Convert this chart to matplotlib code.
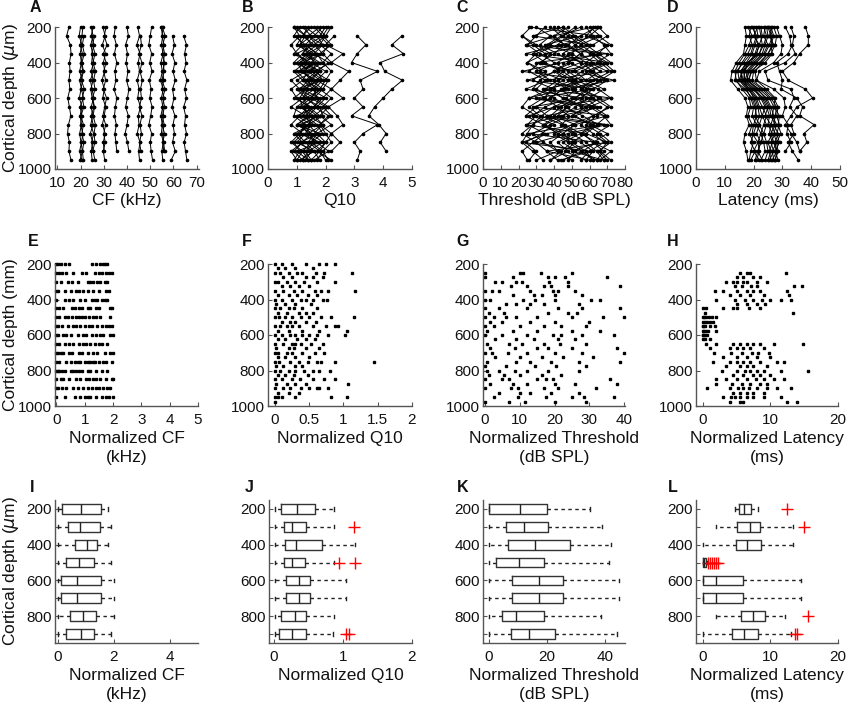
import numpy as np
import matplotlib
matplotlib.use("Agg")
import matplotlib.pyplot as plt

plt.rcParams['font.family'] = ['Liberation Sans', 'DejaVu Sans']
nan = np.nan

# ---------------- data ----------------
depth_grid = [200, 250, 300, 350, 400, 450, 500, 550, 600, 650, 700, 750, 800, 850, 900, 950]

# A: CF tracks (kHz), one list per penetration, values at depth_grid
cf_tracks = [
    [15.0, 14.0, 15.6, 15.9, 15.2, 15.5, 15.0, 15.4, 14.5, 15.2, 15.8, 14.8, 14.4, 15.2, 15.0, 15.9],
    [20.0, 19.4, 20.6, 19.8, 20.4, 19.6, 20.8, 20.2, 19.5, 20.6, 19.8, 20.4, 19.6, 20.2, 20.8, 19.8],
    [21.0, 20.6, 19.8, 20.8, 20.2, 21.0, 19.6, 20.4, 21.2, 19.8, 20.6, 20.0, 21.0, 20.4, 19.6, 20.6],
    [nan, 21.4, 20.8, 21.6, 20.6, 21.2, 20.4, 21.6, 20.8, 21.4, 20.2, 21.2, 20.6, 21.4, 20.8, 21.2],
    [24.6, 25.4, 24.4, 25.2, 24.8, 25.6, 24.2, 25.0, 25.6, 24.6, 25.2, 24.4, 25.6, 24.8, 25.4, 26.2],
    [25.4, 24.6, 25.8, 24.8, 25.6, 24.6, 25.4, 24.4, 25.0, 25.8, 24.6, 25.4, 24.2, 25.2, 24.6, 25.0],
    [nan, 26.0, 25.2, 26.2, 25.4, 26.4, 25.6, 26.2, 25.2, 26.0, 25.4, 26.4, 25.8, 26.2, 25.2, nan],
    [29.6, 30.6, 29.4, 30.8, 29.8, 30.4, 29.2, 30.2, 29.6, 30.8, 30.2, 29.4, 30.6, 29.8, 30.2, nan],
    [31.0, 30.2, 31.4, 29.8, 31.0, 30.0, 30.8, 29.8, 31.2, 30.4, 29.6, 30.8, 30.0, 30.6, 29.8, 30.4],
    [35.0, 34.4, 35.4, 34.6, 35.6, 34.8, 35.2, 34.4, 35.6, 35.0, 34.6, 35.4, 34.8, 35.2, 35.6, nan],
    [40.0, 40.6, 39.4, 40.2, 39.6, 40.4, 39.8, 40.8, 40.2, 39.4, 40.6, 40.0, 39.2, 40.2, 40.8, nan],
    [44.6, 45.4, 44.2, 45.6, 44.8, 45.4, 44.4, 45.2, 44.6, 45.8, 44.8, 45.2, 44.4, 45.6, 45.0, 45.4],
    [nan, 45.8, 46.2, 45.2, 46.4, 45.6, 46.6, 45.8, 46.2, 45.4, 46.4, 45.6, 46.2, 45.4, 46.0, nan],
    [50.6, 50.0, 49.4, 50.6, 49.8, 50.8, 49.6, 50.4, 49.8, 50.8, 50.2, 49.4, 50.6, 50.0, 50.4, 51.0],
    [54.6, 55.4, 54.8, 55.6, 54.6, 55.2, 54.4, 55.6, 54.8, 55.4, 54.6, 55.2, 54.8, 55.6, 55.0, 55.4],
    [55.6, 55.0, 56.0, 55.2, 56.2, 55.4, 55.8, 55.0, 56.0, 55.2, 55.8, 55.0, 56.2, 55.4, 55.8, nan],
    [55.2, 56.4, 55.4, 56.2, 55.6, 56.0, 55.0, 56.4, 55.4, 56.2, 55.2, 56.0, 55.4, 55.8, 56.2, nan],
    [nan, 59.6, 60.4, 59.4, 60.6, 59.8, 60.8, 59.6, 60.2, 59.4, 60.6, 59.8, 60.4, 59.6, 60.8, 59.0],
    [nan, 64.4, 65.6, 64.8, 65.4, 64.6, 65.8, 64.8, 65.6, 64.4, 65.2, 64.8, 65.6, 64.6, 65.2, 65.8],
]

# B: Q10 tracks
q10_tracks = [
    [0.9, 1.1, 0.8, 1.0, 1.3, 0.9, 1.2, 0.8, 1.0, 1.4, 1.1, 0.8, 1.2, 0.9, 1.1, 0.9],
    [1.2, 1.5, 1.1, 1.6, 1.3, 1.8, 1.4, 1.1, 1.6, 1.3, 1.7, 1.2, 1.5, 1.9, 1.4, 1.2],
    [1.8, 1.4, 1.9, 1.6, 2.1, 1.7, 1.3, 1.8, 1.5, 2.0, 1.6, 1.9, 1.4, 1.7, 2.1, 1.6],
    [2.1, 1.9, 2.2, 1.8, 1.5, 2.0, 1.7, 2.2, 1.9, 1.6, 2.1, 1.8, 2.2, 2.0, 1.7, 2.2],
    [1.5, 1.2, 1.6, 1.0, 1.4, 1.1, 1.7, 1.3, 0.9, 1.5, 1.2, 1.6, 1.0, 1.3, 1.6, 1.1],
    [1.0, 1.3, 1.5, 1.2, 0.9, 1.6, 1.0, 1.4, 1.2, 0.8, 1.3, 1.5, 0.9, 1.2, 0.8, 1.0],
    [1.9, 1.6, 1.3, 1.7, 1.9, 1.4, 1.8, 1.5, 2.0, 1.7, 1.4, 1.9, 1.6, 1.4, 1.8, 1.5],
    [1.3, 1.7, 1.9, 1.4, 1.6, 1.2, 1.5, 1.9, 1.3, 1.8, 1.9, 1.4, 1.7, 1.5, 1.2, 1.4],
    [nan, 1.0, 1.2, 0.9, 1.5, 1.3, 0.8, 1.1, 1.4, 1.0, 0.9, 1.3, 1.1, 0.8, 1.2, 1.0],
    [2.2, 2.0, 1.8, 2.2, 1.9, 2.2, 2.0, 1.8, 2.2, 1.9, 2.2, 1.8, 2.0, 2.2, 1.9, 2.1],
    [1.6, 1.9, 1.4, 1.2, 1.7, 1.5, 1.9, 1.6, 1.2, 1.4, 1.8, 1.1, 1.4, 1.6, 1.3, 1.5],
    [1.1, 0.9, 1.3, 1.7, 1.1, 1.4, 1.2, 1.6, 1.7, 1.2, 1.5, 1.0, 1.8, 1.1, 1.5, 1.3],
    [1.7, 2.0, 1.6, 1.9, 1.2, 1.8, 1.5, 1.2, 1.8, 1.6, 1.3, 1.7, 1.9, 1.5, 1.9, 1.7],
    [nan, 1.4, 1.7, 1.3, 1.8, 1.0, 1.3, 1.7, 1.5, 1.1, 1.6, 1.4, 1.1, 1.8, 1.0, 1.4],
    [1.4, 1.2, 1.0, 1.5, 1.1, 1.7, 1.9, 1.0, 1.3, 1.7, 1.0, 1.5, 1.3, 1.0, 1.6, 1.8],
    [2.0, 1.8, 2.1, 1.9, 2.2, 1.6, 2.1, 1.9, 1.6, 2.1, 1.8, 2.2, 1.7, 2.0, 1.8, 2.0],
    [0.9, 1.3, 1.1, 1.4, 1.0, 1.2, 1.6, 1.3, 1.1, 1.2, 1.4, 1.0, 1.5, 1.2, 0.9, 1.2],
    [nan, 2.3, 2.0, 2.6, 2.2, 2.8, 2.5, 2.2, 2.6, 2.1, 2.4, 2.6, 2.2, 2.5, 2.2, nan],
    [nan, 3.1, 3.4, 3.1, 2.9, 3.8, 3.2, 3.3, 3.0, 3.3, 2.9, 3.8, 3.3, 3.0, 3.2, 3.1],
    [nan, 4.65, 4.3, 4.7, 3.9, 4.05, 4.67, 4.3, 4.0, 3.7, 3.5, 3.85, 4.1, 3.9, 4.1, nan],
]

# C: threshold tracks (dB SPL)
thr_tracks = [
    [27, 22, 30, 38, 33, 45, 40, 52, 47, 35, 28, 40, 33, 24, 30, 26],
    [45, 52, 60, 48, 55, 42, 50, 38, 45, 58, 50, 62, 55, 45, 52, 48],
    [63, 58, 70, 65, 72, 60, 68, 55, 62, 70, 64, 58, 66, 72, 65, 70],
    [55, 45, 38, 50, 42, 30, 38, 48, 60, 52, 45, 35, 42, 55, 62, 58],
    [65, 70, 62, 55, 48, 60, 52, 65, 72, 60, 68, 72, 64, 70, 66, 72],
    [40, 48, 42, 30, 25, 35, 28, 40, 34, 26, 32, 45, 52, 42, 48, 38],
    [nan, 22, 28, 35, 25, 32, 45, 38, 26, 22, 30, 25, 35, 28, 22, 25],
    [60, 66, 55, 62, 70, 58, 64, 50, 58, 64, 52, 60, 70, 62, 68, 64],
    [48, 40, 46, 55, 62, 52, 58, 68, 60, 48, 40, 52, 45, 38, 42, 50],
    [nan, 65, 72, 62, 68, 74, 66, 58, 52, 62, 70, 64, 56, 62, 72, 66],
    [35, 30, 25, 32, 40, 48, 55, 45, 38, 30, 36, 28, 22, 30, 36, 42],
    [66, 60, 52, 45, 55, 62, 70, 62, 55, 46, 56, 65, 58, 50, 58, 62],
    [42, 50, 58, 65, 58, 50, 42, 35, 45, 55, 62, 50, 40, 48, 56, 45],
    [nan, 38, 32, 42, 50, 40, 32, 28, 35, 42, 48, 38, 28, 34, 42, 30],
    [52, 45, 52, 60, 66, 72, 62, 55, 65, 72, 62, 55, 62, 68, 60, 55],
    [30, 38, 46, 40, 32, 26, 35, 30, 40, 48, 42, 34, 45, 52, 46, 58],
    [58, 62, 68, 72, 64, 56, 48, 56, 66, 58, 50, 44, 50, 58, 64, 68],
    [64, 55, 48, 55, 48, 40, 48, 60, 52, 44, 38, 46, 55, 64, 56, 62],
    [38, 44, 36, 28, 35, 45, 52, 44, 50, 40, 33, 28, 25, 22, 28, 34],
    [nan, 48, 55, 50, 58, 66, 58, 45, 38, 30, 24, 34, 42, 50, 44, 38],
    [45, 28, 60, 35, 70, 42, 25, 62, 30, 66, 44, 24, 58, 70, 36, 60],
    [62, 40, 24, 66, 45, 22, 60, 34, 72, 40, 26, 68, 36, 22, 60, 44],
    [26, 64, 44, 24, 60, 70, 36, 24, 56, 28, 70, 52, 26, 64, 50, 68],
    [nan, 55, 35, 70, 30, 52, 74, 46, 26, 60, 36, 70, 48, 30, 55, 64],
]

# D: latency tracks (ms)
lat_tracks = [
    [17.0, 17.5, 17.0, 16.5, 14.0, 12.5, 12.0, 14.5, 17.0, 18.0, 17.5, 18.5, 17.0, 16.5, 17.5, 18.0],
    [19.0, 18.5, 19.5, 18.0, 16.0, 14.5, 15.0, 17.5, 19.0, 20.0, 19.5, 21.0, 20.0, 19.0, 20.5, 19.0],
    [21.0, 21.5, 20.5, 19.5, 17.5, 15.5, 16.0, 18.5, 21.0, 22.0, 23.0, 22.0, 23.5, 22.5, 21.5, 23.0],
    [22.5, 23.0, 22.0, 21.0, 19.0, 16.5, 17.0, 20.0, 22.5, 24.0, 23.0, 24.5, 23.5, 24.5, 25.0, 24.0],
    [23.5, 24.5, 23.5, 22.0, 18.0, 17.0, 16.5, 19.5, 23.5, 25.0, 24.0, 26.0, 25.5, 26.5, 25.5, 26.0],
    [24.5, 25.0, 24.0, 23.0, 20.0, 17.5, 18.0, 21.0, 24.5, 26.0, 27.0, 26.0, 27.5, 26.0, 27.0, 25.5],
    [25.5, 26.5, 25.5, 24.0, 21.0, 18.5, 17.5, 22.0, 25.5, 27.0, 26.5, 28.0, 27.0, 28.0, 26.5, 27.0],
    [26.5, 25.5, 27.0, 25.0, 22.5, 19.0, 18.5, 23.0, 26.0, 28.0, 27.5, 27.0, 28.5, 27.5, 28.0, 26.5],
    [18.0, 19.5, 18.5, 17.0, 15.0, 13.5, 14.0, 16.0, 18.5, 19.0, 18.0, 19.5, 18.5, 20.0, 19.0, 18.5],
    [20.0, 20.5, 21.5, 20.5, 18.5, 16.0, 15.5, 18.0, 20.5, 21.5, 22.0, 21.0, 22.5, 21.5, 22.0, 21.0],
    [22.0, 22.5, 23.0, 22.0, 19.5, 16.0, 15.0, 19.0, 21.5, 23.0, 24.5, 23.5, 22.5, 23.5, 24.0, 22.5],
    [24.0, 23.5, 25.0, 23.5, 20.5, 18.0, 17.0, 20.5, 23.0, 24.5, 25.5, 25.0, 26.5, 25.0, 26.0, 25.0],
    [25.0, 26.0, 26.5, 25.0, 22.0, 19.5, 18.0, 21.5, 24.0, 25.5, 26.0, 27.5, 26.0, 27.0, 28.0, 27.5],
    [26.0, 27.0, 26.0, 26.5, 24.0, 20.0, 19.5, 23.5, 27.0, 28.5, 28.0, 29.0, 28.0, 29.0, 27.5, 28.5],
    [27.0, 28.0, 27.5, 26.0, 23.0, 20.5, 21.0, 24.5, 27.5, 27.0, 29.0, 28.5, 29.5, 28.0, 28.5, 27.5],
    [21.5, 20.0, 22.0, 21.0, 18.0, 15.5, 16.5, 18.5, 20.0, 21.0, 20.5, 22.0, 21.0, 22.5, 21.5, 20.5],
    [19.5, 21.0, 20.0, 19.0, 16.5, 14.0, 13.5, 17.0, 19.5, 20.5, 21.0, 20.0, 19.5, 21.5, 20.0, 22.0],
    [28.0, 29.0, 30.0, 29.5, 27.0, 22.0, 21.0, 27.0, 30.5, 31.0, 30.0, 32.0, 31.5, 33.0, 31.0, nan],
    [31.0, 32.5, 33.0, 34.5, 31.0, 24.0, 25.0, 33.0, 34.0, 32.5, 35.0, 33.0, 34.0, 32.0, 33.5, 35.5],
    [33.0, 34.0, 33.5, 32.0, 28.0, 29.0, 30.0, 29.5, 35.0, 37.0, 36.0, 41.0, 37.5, 38.5, 36.0, nan],
    [38.0, 39.0, 39.0, 36.0, 34.0, 30.0, 32.0, 38.0, 40.5, 35.0, 33.0, 31.0, 33.0, 35.0, 36.0, nan],
]

# E: normalized CF, one row of values per depth in depth_grid
ncf_rows = [
    [0.0, 0.05, 0.15, 0.3, 0.45, 1.25, 1.4, 1.55, 1.65, 1.7, 1.8],
    [0.0, 0.1, 0.2, 0.35, 0.6, 0.9, 1.05, 1.35, 1.5, 1.6, 1.75, 1.85, 1.95],
    [0.0, 0.15, 0.4, 0.55, 0.75, 1.1, 1.2, 1.3, 1.45, 1.55, 1.7, 1.8],
    [0.0, 0.05, 0.3, 0.5, 0.7, 0.8, 0.95, 1.1, 1.3, 1.5, 1.75, 1.85],
    [0.0, 0.3, 0.45, 0.6, 0.85, 1.0, 1.25, 1.35, 1.45, 1.6, 1.7, 1.8],
    [0.0, 0.1, 0.25, 0.55, 0.65, 0.8, 0.9, 1.1, 1.2, 1.4, 1.5, 1.9, 1.95],
    [0.0, 0.1, 0.3, 0.4, 0.55, 0.7, 0.8, 0.9, 1.0, 1.15, 1.3, 1.4, 1.55, 1.9],
    [0.0, 0.05, 0.2, 0.4, 0.6, 0.7, 0.85, 1.0, 1.15, 1.25, 1.45, 1.6, 1.75, 1.85, 1.95],
    [0.0, 0.05, 0.25, 0.35, 0.5, 0.75, 0.95, 1.05, 1.25, 1.4, 1.55, 1.65, 1.9, 2.0],
    [0.0, 0.1, 0.3, 0.45, 0.6, 0.8, 0.95, 1.05, 1.2, 1.35, 1.5, 1.6, 1.8],
    [0.0, 0.05, 0.15, 0.25, 0.45, 0.55, 0.8, 0.9, 1.1, 1.3, 1.45, 1.7, 1.9, 2.0],
    [0.0, 0.1, 0.35, 0.5, 0.65, 0.75, 0.85, 1.0, 1.1, 1.2, 1.3, 1.35, 1.5, 1.65, 1.75, 1.95],
    [0.0, 0.05, 0.1, 0.2, 0.3, 0.5, 0.6, 0.7, 0.8, 0.9, 1.1, 1.2, 1.4, 1.6, 1.8],
    [0.0, 0.15, 0.25, 0.45, 0.7, 0.85, 1.05, 1.15, 1.3, 1.4, 1.55, 1.75, 1.95, 2.0],
    [0.0, 0.05, 0.2, 0.35, 0.6, 0.75, 0.95, 1.1, 1.25, 1.4, 1.5, 1.65, 1.8, 1.9],
    [0.0, 0.3, 0.65, 0.85, 1.0, 1.1, 1.2, 1.4, 1.6, 1.75, 1.85, 2.0],
]

# F-H: rows on a 25 um depth grid
fine_depth = [200, 225, 250, 275, 300, 325, 350, 375, 400, 425, 450, 475, 500, 525, 550, 575,
              600, 625, 650, 675, 700, 725, 750, 775, 800, 825, 850, 875, 900, 925, 950, 975]

nq10_rows = [
    [0.0, 0.1, 0.25, 0.45, 0.65, 0.75, 0.88],
    [0.05, 0.15, 0.3, 0.55],
    [0.0, 0.08, 0.2, 0.33, 0.4, 0.6, 0.72, 1.13],
    [0.12, 0.25, 0.45, 0.55, 0.7],
    [0.0, 0.05, 0.18, 0.3, 0.42, 0.62, 0.88],
    [0.1, 0.22, 0.35, 0.5],
    [0.0, 0.12, 0.28, 0.4, 0.58, 0.68, 0.78, 1.17],
    [0.05, 0.2, 0.32, 0.48, 0.62],
    [0.0, 0.1, 0.25, 0.38, 0.45, 0.55, 0.7, 0.76],
    [0.02, 0.15, 0.3, 0.52],
    [0.0, 0.08, 0.2, 0.28, 0.4, 0.62],
    [0.05, 0.18, 0.35, 0.45, 0.55],
    [0.0, 0.06, 0.15, 0.25, 0.38, 0.5, 0.68, 0.82, 1.15],
    [0.1, 0.22, 0.3, 0.45, 0.6],
    [0.0, 0.08, 0.18, 0.25, 0.35, 0.55, 0.75, 0.88, 0.92],
    [0.05, 0.2, 0.4, 0.65, 1.05],
    [0.0, 0.1, 0.22, 0.3, 0.4, 0.5, 0.62, 0.78, 1.02],
    [0.05, 0.15, 0.32, 0.45, 0.58],
    [0.0, 0.12, 0.25, 0.3, 0.38, 0.52, 0.7],
    [0.02, 0.2, 0.28, 0.45, 0.65],
    [0.0, 0.04, 0.18, 0.25, 0.4, 0.58, 0.72],
    [0.05, 0.15, 0.3, 0.5],
    [0.0, 0.06, 0.22, 0.35, 0.48, 0.62, 0.68, 0.88, 1.45],
    [0.02, 0.12, 0.3, 0.4],
    [0.0, 0.08, 0.2, 0.3, 0.42, 0.55, 0.65, 0.8],
    [0.05, 0.15, 0.28, 0.48],
    [0.0, 0.1, 0.25, 0.36, 0.55, 0.72, 0.88],
    [0.02, 0.18, 0.3, 0.45, 1.07],
    [0.0, 0.12, 0.22, 0.38, 0.5, 0.62, 0.65, 0.78],
    [0.05, 0.2, 0.35],
    [0.0, 0.04, 0.1, 0.3, 0.82, 1.05],
    [0.0],
]

nthr_rows = [
    [],
    [],
    [0.0, 10.0, 11.0, 16.0, 25.0],
    [0.0, 8.0, 18.0, 20.0, 23.0, 35.0],
    [3.0, 5.0, 9.0, 10.5, 18.5, 24.0],
    [7.5, 12.0, 17.0, 19.0, 24.0, 39.0],
    [0.0, 2.0, 4.0, 13.0, 19.5, 21.0, 26.0],
    [8.0, 14.0, 16.5, 20.0, 28.0],
    [0.0, 1.5, 11.0, 14.5, 20.0, 30.5, 33.0],
    [6.0, 9.0, 13.0, 17.0, 27.0],
    [0.0, 4.0, 12.0, 21.0, 28.0, 39.0],
    [1.0, 5.5, 18.0, 24.0, 26.5],
    [0.0, 2.5, 6.0, 9.0, 15.0, 25.0, 34.0, 40.0],
    [1.5, 5.0, 13.0, 20.0, 30.0],
    [0.0, 2.5, 10.0, 17.0, 22.0, 29.0],
    [0.5, 8.0, 15.0, 25.0, 33.0],
    [0.0, 5.0, 12.0, 19.5, 22.0, 28.0, 37.0],
    [3.0, 9.0, 14.0, 21.0, 26.0],
    [0.5, 7.0, 10.5, 17.0, 21.5, 29.0],
    [1.5, 8.5, 15.0, 18.0, 25.0, 38.0],
    [0.0, 2.0, 6.5, 12.0, 20.0, 28.0, 40.0],
    [3.0, 10.0, 16.5, 22.5, 31.0],
    [0.5, 9.0, 13.0, 19.0, 27.0, 39.0],
    [0.0, 6.0, 14.5, 20.5, 29.0],
    [0.5, 4.0, 8.5, 12.0, 18.0, 27.0],
    [1.0, 5.5, 10.0, 16.5, 22.0],
    [0.0, 5.0, 7.0, 15.0, 17.5, 19.5, 36.0],
    [1.5, 8.0, 12.0, 20.0, 26.0, 38.0],
    [0.0, 7.5, 9.5, 17.0, 21.0, 32.0],
    [4.0, 10.0, 13.0, 19.0, 27.0],
    [2.5, 9.5, 17.5, 25.0, 28.5, 37.0],
    [0.0, 7.0, 11.5, 20.0, 29.0],
]

nlat_rows = [
    [],
    [],
    [5.5, 6.5, 7.0, 12.3],
    [5.0, 6.0, 7.5, 8.5],
    [3.5, 4.5, 5.0, 6.0, 6.5, 8.0, 9.5],
    [4.8, 5.8, 7.2, 8.0, 13.5, 14.7],
    [1.8, 3.0, 5.0, 6.5, 7.5, 8.5, 12.5],
    [4.0, 5.5, 7.0, 9.0, 12.8],
    [2.0, 4.8, 6.2, 7.5, 8.8, 10.0, 11.5, 13.0],
    [5.0, 6.5, 8.0, 9.2],
    [0.0, 0.5, 3.0, 4.5, 5.0, 6.8, 8.5],
    [0.3, 13.3],
    [0.0, 0.2, 0.5, 0.9, 1.3, 2.0],
    [0.0, 0.3, 0.6, 1.0, 1.5],
    [0.0, 0.1, 0.4, 1.1, 1.8],
    [0.0, 0.2, 0.5, 0.8, 2.0],
    [0.0, 0.1, 0.3, 0.6],
    [0.0, 0.4, 1.0],
    [0.5, 2.0, 4.5, 5.5, 6.5, 7.5, 8.5, 10.5, 14.8],
    [1.0, 4.0, 5.0, 6.0, 7.0, 9.0],
    [1.7, 4.2, 5.8, 7.3, 8.2, 9.8],
    [3.0, 5.0, 6.5, 8.0, 10.0],
    [1.5, 4.0, 5.0, 6.0, 7.0, 8.5, 11.0, 12.0],
    [3.5, 5.5, 6.5, 7.5, 9.5],
    [2.8, 5.0, 6.2, 7.0, 8.0, 9.0, 11.5, 15.5],
    [4.5, 6.0, 7.5, 8.5, 10.0],
    [2.0, 3.5, 5.0, 6.5, 7.8, 9.0, 10.5, 12.0],
    [2.0, 4.3, 5.8, 7.0, 8.5, 9.5],
    [0.7, 4.0, 5.2, 6.0, 6.8, 8.0, 9.5, 11.0, 13.0],
    [4.5, 5.5, 6.5, 7.5, 9.0],
    [3.0, 4.2, 4.8, 5.5, 6.5, 7.5, 9.0, 11.5],
    [4.0, 5.5, 6.0, 12.5, 14.0],
]

# I-L: box statistics per 100 um depth bin
box_depth = [200, 300, 400, 500, 600, 700, 800, 900]
box_ticklabels = ['200', '', '400', '', '600', '', '800', '']

cf_lo = [0.0, 0.0, 0.0, 0.0, 0.0, 0.0, 0.0, 0.0]
cf_q1 = [0.14, 0.38, 0.6, 0.3, 0.1, 0.1, 0.44, 0.3]
cf_med = [0.83, 0.80, 1.04, 0.74, 0.68, 0.68, 0.89, 0.83]
cf_q3 = [1.55, 1.49, 1.39, 1.29, 1.55, 1.55, 1.37, 1.29]
cf_hi = [1.79, 1.88, 1.79, 1.88, 2.0, 2.0, 2.0, 1.88]
cf_out = [[], [], [], [], [], [], [], []]

q10_lo = [0.02, 0.02, 0.02, 0.02, 0.02, 0.02, 0.02, 0.02]
q10_q1 = [0.1, 0.14, 0.155, 0.14, 0.18, 0.18, 0.1, 0.07]
q10_med = [0.34, 0.26, 0.315, 0.26, 0.36, 0.36, 0.30, 0.26]
q10_q3 = [0.59, 0.46, 0.70, 0.45, 0.53, 0.53, 0.46, 0.46]
q10_hi = [0.87, 0.87, 1.17, 0.87, 1.05, 1.05, 0.87, 0.86]
q10_out = [[], [1.16], [], [0.95, 1.18], [], [], [], [1.05, 1.09]]

thr_lo = [0.0, 0.0, 0.0, 0.0, 0.0, 0.0, 0.0, 0.0]
thr_q1 = [0.0, 5.9, 6.5, 2.4, 8.1, 8.1, 4.6, 7.6]
thr_med = [10.9, 12.2, 15.9, 10.4, 17.4, 17.4, 9.3, 13.9]
thr_q3 = [20.1, 20.5, 28.0, 19.1, 25.7, 25.7, 19.0, 22.8]
thr_hi = [35.0, 39.0, 42.0, 41.6, 44.9, 44.9, 38.7, 44.3]
thr_out = [[], [], [], [], [], [], [], []]

lat_lo = [4.8, 2.0, 0.0, 0.0, 0.0, 0.0, 2.0, 0.0]
lat_q1 = [5.35, 5.1, 4.9, 0.0, 0.0, 0.0, 5.6, 4.3]
lat_med = [6.1, 7.0, 6.5, 0.15, 2.0, 2.0, 7.4, 6.1]
lat_q3 = [7.2, 8.45, 8.6, 0.5, 6.0, 6.0, 9.2, 8.1]
lat_hi = [8.1, 13.4, 13.3, 0.6, 14.6, 14.6, 12.2, 13.1]
lat_out = [[12.5], [15.0], [], [0.8, 1.0, 1.3, 1.6, 1.9, 2.3], [], [], [15.5], [13.7, 13.9]]

# ---------------- layout ----------------
W, H = 850, 711
fig = plt.figure(figsize=(W / 100, H / 100), dpi=100)

SPINE = '#555555'
TXT = '#111111'


def frac(l, t, w, h):
    return [l / W, 1 - (t + h) / H, w / W, h / H]


def style(ax, xlim, xticks, ylim, yticks, yticklabels=None, xticklabels=None):
    for s in ('top', 'right'):
        ax.spines[s].set_visible(False)
    for s in ('left', 'bottom'):
        ax.spines[s].set_color(SPINE)
        ax.spines[s].set_linewidth(1.0)
    ax.set_xlim(*xlim)
    ax.set_ylim(*ylim)
    ax.set_xticks(xticks)
    if xticklabels is not None:
        ax.set_xticklabels(xticklabels)
    ax.set_yticks(yticks)
    if yticklabels is not None:
        ax.set_yticklabels(yticklabels)
    ax.tick_params(direction='in', length=3, width=0.8, color=SPINE,
                   labelsize=11, labelcolor=TXT)
    ax.tick_params(axis='y', pad=2)
    ax.tick_params(axis='x', pad=5)


def letter(x, y, s):
    fig.text(x / W, 1 - y / H, s, fontsize=11.5, fontweight='bold', color=TXT,
             ha='left', va='center')


depth_ticks = [200, 400, 600, 800, 1000]

# Row 1: tracks
row1 = [
    (cf_tracks, (55, 144), (9, 71), range(10, 71, 10), 'CF (kHz)', 'A', 30),
    (q10_tracks, (268, 144), (0, 5), range(0, 6), 'Q10', 'B', 242),
    (thr_tracks, (483, 142), (0, 80), range(0, 81, 10), 'Threshold (dB SPL)', 'C', 456),
    (lat_tracks, (696, 144), (0, 50), range(0, 51, 10), 'Latency (ms)', 'D', 667),
]
for tracks, (left, width), xlim, xt, xlabel, lab, lx in row1:
    ax = fig.add_axes(frac(left, 27, width, 142))
    for tr in tracks:
        ax.plot(tr, depth_grid, color='black', lw=0.7, marker='o', ms=1.6,
                mfc='black', mec='black', clip_on=False)
    style(ax, xlim, list(xt), (1000, 200), depth_ticks)
    ax.set_xlabel(xlabel, fontsize=12.5, color=TXT, labelpad=2)
    letter(lx, 8, lab)

# Row 2: normalized scatter
row2 = [
    (ncf_rows, depth_grid, (55, 143), (-0.05, 5), range(0, 6), None,
     'Normalized CF\n(kHz)', 'E', 28),
    (nq10_rows, fine_depth, (268, 144), (-0.1, 2), [0, 0.5, 1, 1.5, 2], ['0', '0.5', '1', '1.5', '2'],
     'Normalized Q10', 'F', 242),
    (nthr_rows, fine_depth, (483, 142), (-0.6, 40.3), range(0, 41, 10), None,
     'Normalized Threshold\n(dB SPL)', 'G', 456),
    (nlat_rows, fine_depth, (696, 142), (-1, 20), [0, 10, 20], None,
     'Normalized Latency\n(ms)', 'H', 667),
]
for rows, depths, (left, width), xlim, xt, xtl, xlabel, lab, lx in row2:
    ax = fig.add_axes(frac(left, 264, width, 142))
    for d, vals in zip(depths, rows):
        ax.plot(vals, [d] * len(vals), linestyle='none', marker='s', ms=2.0,
                color='black', clip_on=False)
    style(ax, xlim, list(xt), (1000, 200), depth_ticks, xticklabels=xtl)
    ax.set_xlabel(xlabel, fontsize=12.5, color=TXT, labelpad=3, linespacing=1.35)
    letter(lx, 242, lab)

# Row 3: box plots
row3 = [
    ((cf_lo, cf_q1, cf_med, cf_q3, cf_hi, cf_out), (55, 143), (-0.1, 5), [0, 2, 4],
     'Normalized CF\n(kHz)', 'I', 30),
    ((q10_lo, q10_q1, q10_med, q10_q3, q10_hi, q10_out), (269, 143), (-0.07, 2), [0, 1, 2],
     'Normalized Q10', 'J', 245),
    ((thr_lo, thr_q1, thr_med, thr_q3, thr_hi, thr_out), (483, 142), (-2, 47), [0, 20, 40],
     'Normalized Threshold\n(dB SPL)', 'K', 457),
    ((lat_lo, lat_q1, lat_med, lat_q3, lat_hi, lat_out), (696, 142), (-1, 20), [0, 10, 20],
     'Normalized Latency\n(ms)', 'L', 668),
]
for (lo, q1, med, q3, hi, out), (left, width), xlim, xt, xlabel, lab, lx in row3:
    ax = fig.add_axes(frac(left, 500, width, 143))
    stats = [dict(whislo=a, q1=b, med=c, q3=d, whishi=e, fliers=f)
             for a, b, c, d, e, f in zip(lo, q1, med, q3, hi, out)]
    ax.bxp(stats, positions=box_depth, widths=54, orientation='horizontal',
           capwidths=18, manage_ticks=False, showfliers=True,
           boxprops=dict(color='#333333', lw=1.0),
           medianprops=dict(color='#222222', lw=1.0),
           whiskerprops=dict(color='#222222', lw=1.0, linestyle=(0, (2.5, 2.5))),
           capprops=dict(color='#222222', lw=1.0),
           flierprops=dict(marker='+', markeredgecolor='red', markersize=9,
                           markeredgewidth=1.0, linestyle='none'))
    style(ax, xlim, xt, (950, 150), box_depth, yticklabels=box_ticklabels)
    ax.set_xlabel(xlabel, fontsize=12.5, color=TXT, labelpad=3, linespacing=1.35)
    letter(lx, 487, lab)

# y labels
fig.text(11 / W, 1 - 98 / H, r'Cortical depth ($\mu$m)', rotation=90, fontsize=12.5,
         color=TXT, ha='center', va='center')
fig.text(11 / W, 1 - 335 / H, 'Cortical depth (mm)', rotation=90, fontsize=12.5,
         color=TXT, ha='center', va='center')
fig.text(11 / W, 1 - 571 / H, r'Cortical depth ($\mu$m)', rotation=90, fontsize=12.5,
         color=TXT, ha='center', va='center')

fig.savefig('out.png', dpi=100, facecolor='white')
